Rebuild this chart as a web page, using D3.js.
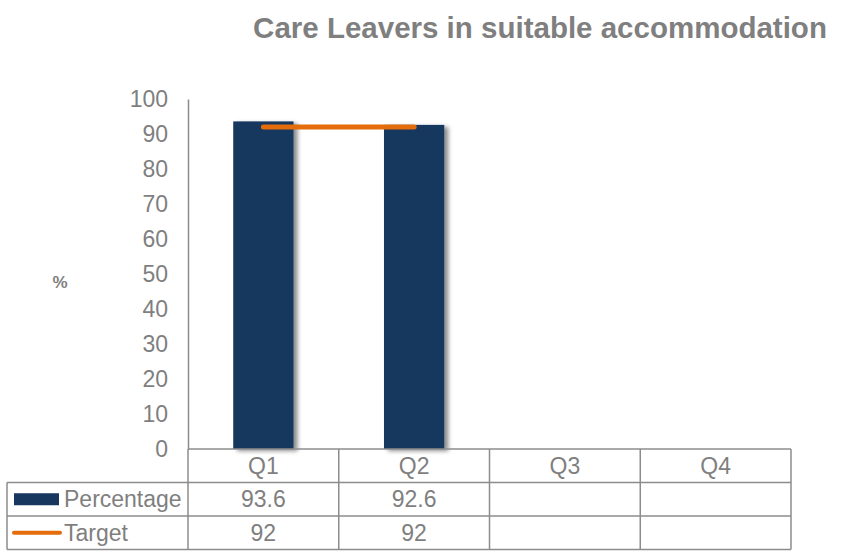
<!DOCTYPE html>
<html>
<head>
<meta charset="utf-8">
<script src="https://cdn.jsdelivr.net/npm/d3@7/dist/d3.min.js"></script>
<style>
  html, body { margin: 0; padding: 0; background: #fff; }
  svg { display: block; font-family: "Liberation Sans", Arial, sans-serif; }
</style>
</head>
<body>
<svg id="chart" width="842" height="553"></svg>
<script>
// Quarterly figures
const quarters = ["Q1", "Q2", "Q3", "Q4"];
const percentage = [93.6, 92.6, null, null];
const target = [92, 92, null, null];
const yTicks = [0, 10, 20, 30, 40, 50, 60, 70, 80, 90, 100];
const seriesNames = ["Percentage", "Target"];

const barColor = "#17375E";
const lineColor = "#E46C0A";
const textColor = "#7F7F7F";
const gridColor = "#8C8C8C";
const fontSize = 23;

const svg = d3.select("#chart");

const plot = { left: 188, right: 791, top: 99, bottom: 449 };
const tableLeft = 7;
const rowH = 33.5;

const y = d3.scaleLinear().domain([0, 100]).range([plot.bottom, plot.top]);
const xCol = d3.scaleBand().domain(quarters).range([plot.left, plot.right]).padding(0);
const xBar = d3.scaleBand().domain(quarters).range([plot.left, plot.right])
  .paddingInner(0.6).paddingOuter(0.3);

// Shadow under bars
const defs = svg.append("defs");
const f = defs.append("filter").attr("id", "shadow")
  .attr("x", "-20%").attr("y", "-10%").attr("width", "150%").attr("height", "130%");
f.append("feDropShadow").attr("dx", 4).attr("dy", 2).attr("stdDeviation", 2)
  .attr("flood-color", "#000").attr("flood-opacity", 0.45);

// Title
svg.append("text")
  .attr("x", 540).attr("y", 38)
  .attr("text-anchor", "middle")
  .attr("font-size", 29.5).attr("font-weight", "bold")
  .attr("fill", textColor)
  .text("Care Leavers in suitable accommodation");

// Y axis title
svg.append("text")
  .attr("x", 60).attr("y", 288)
  .attr("text-anchor", "middle")
  .attr("font-size", 17).attr("font-weight", "bold")
  .attr("fill", textColor)
  .text("%");

// Y axis
const yAxis = d3.axisLeft(y).tickValues(yTicks).tickSize(0).tickPadding(20);
const gy = svg.append("g").attr("transform", `translate(${plot.left},0)`).call(yAxis);
gy.select(".domain").attr("stroke", gridColor).attr("stroke-width", 1.5);
gy.selectAll("text").attr("font-size", fontSize).attr("fill", textColor)
  .attr("font-family", "Liberation Sans, Arial, sans-serif");

// Bars
svg.append("g").selectAll("rect")
  .data(quarters.map((q, i) => ({ q, v: percentage[i] })).filter(d => d.v != null))
  .join("rect")
  .attr("x", d => xBar(d.q))
  .attr("y", d => y(d.v))
  .attr("width", xBar.bandwidth())
  .attr("height", d => y(0) - y(d.v))
  .attr("fill", barColor)
  .attr("filter", "url(#shadow)");

// Target line
const tData = quarters.map((q, i) => ({ q, v: target[i] })).filter(d => d.v != null);
svg.append("path")
  .datum(tData)
  .attr("fill", "none")
  .attr("stroke", lineColor)
  .attr("stroke-width", 5)
  .attr("stroke-linecap", "round")
  .attr("d", d3.line().x(d => xCol(d.q) + xCol.bandwidth() / 2).y(d => y(d.v)));

// Data table
const table = svg.append("g");
const rows = [plot.bottom, plot.bottom + rowH, plot.bottom + 2 * rowH, plot.bottom + 3 * rowH];

// horizontal lines
table.append("line").attr("x1", plot.left).attr("x2", plot.right)
  .attr("y1", rows[0]).attr("y2", rows[0]);
[rows[1], rows[2], rows[3]].forEach(yy => {
  table.append("line").attr("x1", tableLeft).attr("x2", plot.right)
    .attr("y1", yy).attr("y2", yy);
});
// vertical lines
table.append("line").attr("x1", tableLeft).attr("x2", tableLeft)
  .attr("y1", rows[1]).attr("y2", rows[3]);
quarters.forEach(q => {
  table.append("line").attr("x1", xCol(q)).attr("x2", xCol(q))
    .attr("y1", rows[0]).attr("y2", rows[3]);
});
table.append("line").attr("x1", plot.right).attr("x2", plot.right)
  .attr("y1", rows[0]).attr("y2", rows[3]);
table.selectAll("line").attr("stroke", gridColor).attr("stroke-width", 1.5);

const cellText = (x, yy, t, anchor) => table.append("text")
  .attr("x", x).attr("y", yy).attr("dy", "0.35em")
  .attr("text-anchor", anchor || "middle")
  .attr("font-size", fontSize).attr("fill", textColor).text(t);

// header
quarters.forEach(q => cellText(xCol(q) + xCol.bandwidth() / 2, (rows[0] + rows[1]) / 2, q));
// values
quarters.forEach((q, i) => {
  if (percentage[i] != null) cellText(xCol(q) + xCol.bandwidth() / 2, (rows[1] + rows[2]) / 2, String(percentage[i]));
  if (target[i] != null) cellText(xCol(q) + xCol.bandwidth() / 2, (rows[2] + rows[3]) / 2, String(target[i]));
});
// legend keys
const r1 = (rows[1] + rows[2]) / 2, r2 = (rows[2] + rows[3]) / 2;
table.append("rect").attr("x", 14).attr("y", r1 - 6).attr("width", 45).attr("height", 12).attr("fill", barColor);
table.append("line").attr("x1", 14).attr("x2", 60).attr("y1", r2).attr("y2", r2)
  .attr("stroke", lineColor).attr("stroke-width", 4).attr("stroke-linecap", "round");
cellText(64, r1, seriesNames[0], "start");
cellText(64, r2, seriesNames[1], "start");
</script>
</body>
</html>
